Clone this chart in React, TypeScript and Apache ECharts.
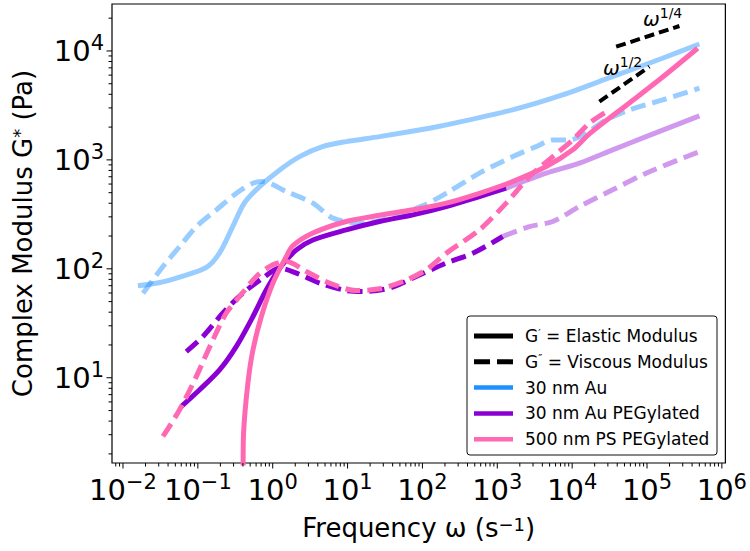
import React, { useEffect, useRef } from 'react';
import * as echarts from 'echarts';

// ---------- data (frequency in s^-1, modulus in Pa) ----------
const au30Elastic: [number, number][] = [
  [0.0158, 69.8], [0.031, 74.8], [0.057, 84], [0.13, 103], [0.195, 140], [0.292, 244],
  [0.42, 404], [0.668, 569], [1.24, 809], [2.29, 1072], [4.63, 1324], [9.6, 1472],
  [26.7, 1636], [124, 1954], [208, 2094], [1597, 2877], [7430, 3945], [34500, 5808],
  [160700, 8570], [501000, 11590],
];
const au30Viscous: [number, number][] = [
  [0.0185, 59.8], [0.0342, 105], [0.057, 160], [0.0955, 244], [0.177, 348], [0.327, 494],
  [0.545, 611], [0.74, 632], [1.52, 512], [3.44, 401], [6.37, 292], [14.5, 262],
  [35, 290], [100, 378], [208, 494], [578, 755], [1611, 1072], [3305, 1324], [5510, 1525],
  [9200, 1525], [15380, 1757], [28440, 2328], [58200, 2877], [162000, 3550], [501000, 4550],
];
const peg30Elastic: [number, number][] = [
  [0.0603, 5.46], [0.1057, 7.76], [0.195, 11.8], [0.327, 19.4], [0.545, 36.5], [0.822, 64.2],
  [1.24, 102], [2.07, 149], [3.44, 184], [9.6, 228], [26.7, 272], [74.5, 313], [208, 373],
  [578, 461], [1315, 550],
];
const peg30ElasticExt: [number, number][] = [
  [1315, 550], [4500, 755], [12530, 933], [34800, 1236], [97200, 1636], [501000, 2535],
];
const peg30Viscous: [number, number][] = [
  [0.0702, 17.4], [0.117, 23.9], [0.216, 39.3], [0.4, 59.8], [0.74, 82.3], [1.24, 101.5],
  [2.07, 91.4], [4.23, 74], [9.6, 63.2], [16, 61.9], [36.4, 66.6], [74.5, 82.3], [208, 113],
  [471, 139], [1183, 198],
];
const peg30ViscousExt: [number, number][] = [
  [1183, 198], [2690, 244], [5510, 272], [12530, 373], [34800, 531], [97200, 755], [501000, 1191],
];
const ps500Elastic: [number, number][] = [
  [0.399, 1.2], [0.402, 1.59], [0.408, 3.11], [0.466, 8.93], [0.545, 18.1], [0.705, 36.5],
  [1.007, 74], [1.52, 130], [1.86, 163], [3.44, 213], [9.6, 272], [26.7, 310], [74.5, 348],
  [208, 401], [578, 494], [1596, 632], [4500, 868], [10190, 1236], [17000, 1733],
  [58200, 3334], [162000, 5768], [475000, 10590],
];
const ps500Viscous: [number, number][] = [
  [0.0342, 2.89], [0.057, 5.08], [0.0955, 10.3], [0.159, 22.3], [0.24, 39.3], [0.361, 55.7],
  [0.604, 85], [1.007, 109], [1.52, 117], [2.81, 94.4], [5.75, 74], [13.1, 63.2], [26.7, 65.6],
  [54.7, 76.4], [112, 98], [208, 139], [578, 228], [1315, 401], [2690, 703], [5510, 1072],
  [10190, 1525], [17000, 2173], [31500, 2877],
];
const slopeQuarter: [number, number][] = [[38700, 10940], [271000, 16950]];
const slopeHalf: [number, number][] = [[23100, 3428], [107600, 7180]];

const xTickExponents = [-2, -1, 0, 1, 2, 3, 4, 5, 6];
const yTickExponents = [1, 2, 3, 4];
const minorMultipliers = [2, 3, 4, 5, 6, 7, 8, 9];

const X_MIN = 0.00713;
const X_MAX = 1.114e6;
const Y_MIN = 1.65;
const Y_MAX = 26980;

const legendItems = [
  { label: 'G{p|′} = Elastic Modulus', color: '#000000', dashed: false, width: 5 },
  { label: 'G{p|″} = Viscous Modulus', color: '#000000', dashed: true, width: 5 },
  { label: '30 nm Au', color: '#1E90FF', dashed: false, width: 4.5 },
  { label: '30 nm Au PEGylated', color: '#8A00D4', dashed: false, width: 4.5 },
  { label: '500 nm PS PEGylated', color: '#FF69B4', dashed: false, width: 4.5 },
];

// ---------- styling ----------
const FONT = 'DejaVu Sans';
const BLUE_LIGHT = 'rgba(30,144,255,0.45)';
const PURPLE = '#8A00D4';
const PURPLE_LIGHT = 'rgba(138,0,212,0.4)';
const PINK = '#FF69B4';
const DASH = [15, 7];

const supNum = (e: number) => (e < 0 ? '−' + Math.abs(e) : String(e));
const powLabel = (v: number) => {
  const l = Math.log10(v);
  const e = Math.round(l);
  if (Math.abs(l - e) > 1e-6) return '';
  return `{b|10}{s|${supNum(e)}}`;
};
const labelRich = {
  b: { fontSize: 29, fontFamily: FONT, color: '#000', lineHeight: 37 },
  s: { fontSize: 21, fontFamily: FONT, color: '#000', lineHeight: 19, verticalAlign: 'top' },
};

const xMajor = xTickExponents.map((e) => Math.pow(10, e));
const yMajor = yTickExponents.map((e) => Math.pow(10, e));
const minorList = (lo: number, hi: number) => {
  const out: number[] = [];
  for (let n = -4; n <= 6; n++) {
    for (const k of minorMultipliers) {
      const v = k * Math.pow(10, n);
      if (v > lo && v < hi) out.push(v);
    }
  }
  return out;
};
const xMinor = minorList(X_MIN, X_MAX);
const yMinor = minorList(Y_MIN, Y_MAX);

const tickSeries = (axis: 'x' | 'y', values: number[], len: number) => ({
  type: 'custom',
  coordinateSystem: 'cartesian2d',
  silent: true,
  clip: false,
  z: 10,
  data: values.map((v) => (axis === 'x' ? [v, 100] : [1, v])),
  renderItem: (params: any, api: any) => {
    const cs = params.coordSys;
    const p = api.coord([api.value(0), api.value(1)]);
    if (axis === 'x') {
      const yb = cs.y + cs.height;
      return {
        type: 'line',
        shape: { x1: p[0], y1: yb, x2: p[0], y2: yb + len },
        style: { stroke: '#000', lineWidth: 1 },
      };
    }
    return {
      type: 'line',
      shape: { x1: cs.x - len, y1: p[1], x2: cs.x, y2: p[1] },
      style: { stroke: '#000', lineWidth: 1 },
    };
  },
});

const lineSeries = (data: [number, number][], color: string, dashed: boolean, z = 2, width = 5) => ({
  type: 'line',
  data,
  smooth: 0.3,
  showSymbol: false,
  symbol: 'none',
  z,
  silent: true,
  lineStyle: { color, width, type: dashed ? DASH : 'solid', cap: 'butt' },
});

const LEG_ROW0 = 336;
const LEG_STEP = 25.8;
const legendGraphics: any[] = [
  {
    type: 'rect',
    shape: { x: 467, y: 316, width: 250, height: 139, r: 3 },
    style: { fill: '#ffffff', stroke: '#111', lineWidth: 1 },
    z: 100,
  },
];
legendItems.forEach((it, i) => {
  const y = LEG_ROW0 + i * LEG_STEP;
  legendGraphics.push({
    type: 'line',
    shape: { x1: 474, y1: y, x2: 513, y2: y },
    style: { stroke: it.color, lineWidth: it.width, lineDash: it.dashed ? [16, 7] : null },
    z: 101,
  });
  legendGraphics.push({
    type: 'text',
    x: 525,
    y,
    style: {
      text: it.label,
      fontSize: 17,
      fontFamily: FONT,
      fill: '#000',
      align: 'left',
      verticalAlign: 'middle',
      rich: {
        p: { fontSize: 11, fontFamily: FONT, fill: '#000', lineHeight: 12, verticalAlign: 'top' },
      },
    },
    z: 101,
  });
});

const annotationRich = {
  w: { fontSize: 20, fontFamily: FONT, fontStyle: 'italic', fill: '#000', lineHeight: 26 },
  s: { fontSize: 14, fontFamily: FONT, fill: '#000', lineHeight: 14, verticalAlign: 'top' },
};

const titleStyle = {
  fontSize: 26,
  fontFamily: FONT,
  color: '#000',
  rich: {
    sup: { fontSize: 18, fontFamily: FONT, color: '#000', lineHeight: 16, verticalAlign: 'top' },
  },
};

const option: any = {
  animation: false,
  backgroundColor: '#ffffff',
  textStyle: { fontFamily: FONT },
  grid: {
    left: 112,
    top: 4,
    right: 24,
    bottom: 88,
    show: true,
    borderColor: '#000',
    borderWidth: 1.2,
    backgroundColor: 'transparent',
  },
  xAxis: {
    type: 'log',
    logBase: 10,
    min: X_MIN,
    max: X_MAX,
    axisLine: { show: false },
    axisTick: { show: false },
    splitLine: { show: false },
    axisLabel: {
      interval: 0,
      hideOverlap: false,
      margin: 8,
      formatter: powLabel,
      rich: labelRich,
    },
    name: 'Frequency ω (s{sup|−1})',
    nameLocation: 'middle',
    nameGap: 52,
    nameTextStyle: titleStyle,
  },
  yAxis: {
    type: 'log',
    logBase: 10,
    min: Y_MIN,
    max: Y_MAX,
    axisLine: { show: false },
    axisTick: { show: false },
    splitLine: { show: false },
    axisLabel: {
      interval: 0,
      hideOverlap: false,
      margin: 8,
      formatter: powLabel,
      rich: labelRich,
    },
    name: 'Complex Modulus G{sup|*} (Pa)',
    nameLocation: 'middle',
    nameGap: 76,
    nameTextStyle: titleStyle,
  },
  graphic: [
    ...legendGraphics,
    {
      type: 'text',
      x: 643,
      y: 6,
      style: { text: '{w|ω}{s|1/4}', rich: annotationRich, fill: '#000' },
      z: 50,
    },
    {
      type: 'text',
      x: 603,
      y: 55,
      style: { text: '{w|ω}{s|1/2}', rich: annotationRich, fill: '#000' },
      z: 50,
    },
  ],
  series: [
    lineSeries(au30Elastic, BLUE_LIGHT, false, 2),
    lineSeries(au30Viscous, BLUE_LIGHT, true, 2),
    lineSeries(peg30Elastic, PURPLE, false, 3),
    lineSeries(peg30ElasticExt, PURPLE_LIGHT, false, 3),
    lineSeries(peg30Viscous, PURPLE, true, 3),
    lineSeries(peg30ViscousExt, PURPLE_LIGHT, true, 3),
    lineSeries(ps500Elastic, PINK, false, 4),
    lineSeries(ps500Viscous, PINK, true, 4),
    {
      type: 'line',
      data: slopeQuarter,
      showSymbol: false,
      symbol: 'none',
      silent: true,
      z: 5,
      lineStyle: { color: '#000', width: 4, type: [10, 5], cap: 'butt' },
    },
    {
      type: 'line',
      data: slopeHalf,
      showSymbol: false,
      symbol: 'none',
      silent: true,
      z: 5,
      lineStyle: { color: '#000', width: 4, type: [10, 5], cap: 'butt' },
    },
    tickSeries('x', xMajor, 5.5),
    tickSeries('x', xMinor, 3.5),
    tickSeries('y', yMajor, 5.5),
    tickSeries('y', yMinor, 3.5),
  ],
};

export default function App() {
  const ref = useRef<HTMLDivElement>(null);
  useEffect(() => {
    const chart = echarts.init(ref.current!, null, { renderer: 'svg' });
    chart.setOption(option);
    return () => chart.dispose();
  }, []);
  return (
    <div
      ref={ref}
      style={{ position: 'fixed', left: 0, top: 0, width: 750, height: 551, background: '#fff' }}
    />
  );
}
